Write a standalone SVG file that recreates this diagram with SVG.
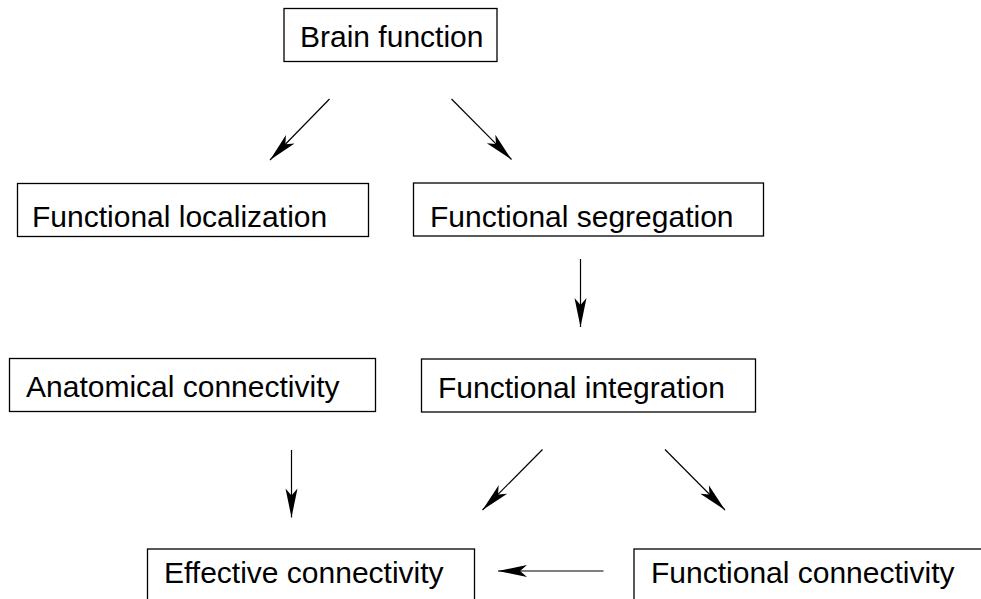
<svg xmlns="http://www.w3.org/2000/svg" width="981" height="599" viewBox="0 0 981 599">
<style>
.box{fill:#fff;stroke:#000;stroke-width:1.3}
.lbl{font-family:"Liberation Sans",Arial,sans-serif;font-size:30px;fill:#000}
.con{stroke:#000;stroke-width:1.2;fill:none;marker-end:url(#ah)}
</style>
<defs>
<marker id="ah" markerUnits="userSpaceOnUse" markerWidth="32" markerHeight="16" viewBox="-30 -8 32 16" refX="0" refY="0" orient="auto">
<path d="M0,0 L-29,-6 L-22,0 L-29,6 Z" fill="#000"/>
</marker>
</defs>
<rect width="981" height="599" fill="#fff"/>
<g id="brain-function"><rect class="box" x="284" y="8.5" width="213" height="53"/><text class="lbl" x="300" y="47">Brain function</text></g>
<g id="functional-localization"><rect class="box" x="17.5" y="183.5" width="351" height="53"/><text class="lbl" x="32" y="227">Functional localization</text></g>
<g id="functional-segregation"><rect class="box" x="413.5" y="183" width="350" height="53"/><text class="lbl" x="430" y="227">Functional segregation</text></g>
<g id="anatomical-connectivity"><rect class="box" x="9.5" y="358.5" width="366" height="53"/><text class="lbl" x="26" y="397">Anatomical connectivity</text></g>
<g id="functional-integration"><rect class="box" x="421.5" y="359" width="334" height="53"/><text class="lbl" x="438" y="398">Functional integration</text></g>
<g id="effective-connectivity"><rect class="box" x="147.5" y="549" width="327" height="60"/><text class="lbl" x="164" y="583">Effective connectivity</text></g>
<g id="functional-connectivity"><rect class="box" x="634" y="549" width="360" height="60"/><text class="lbl" x="651" y="583">Functional connectivity</text></g>
<g id="connectors">
<line class="con" x1="329.5" y1="99" x2="270" y2="160"/>
<line class="con" x1="451.5" y1="99" x2="511.5" y2="159.5"/>
<line class="con" x1="580.5" y1="259" x2="580.5" y2="327"/>
<line class="con" x1="291.5" y1="450" x2="291.5" y2="517.5"/>
<line class="con" x1="542.5" y1="449.5" x2="482.5" y2="510"/>
<line class="con" x1="665" y1="449.5" x2="725" y2="510"/>
<line class="con" x1="603.5" y1="571" x2="498" y2="571"/>
</g>
</svg>
